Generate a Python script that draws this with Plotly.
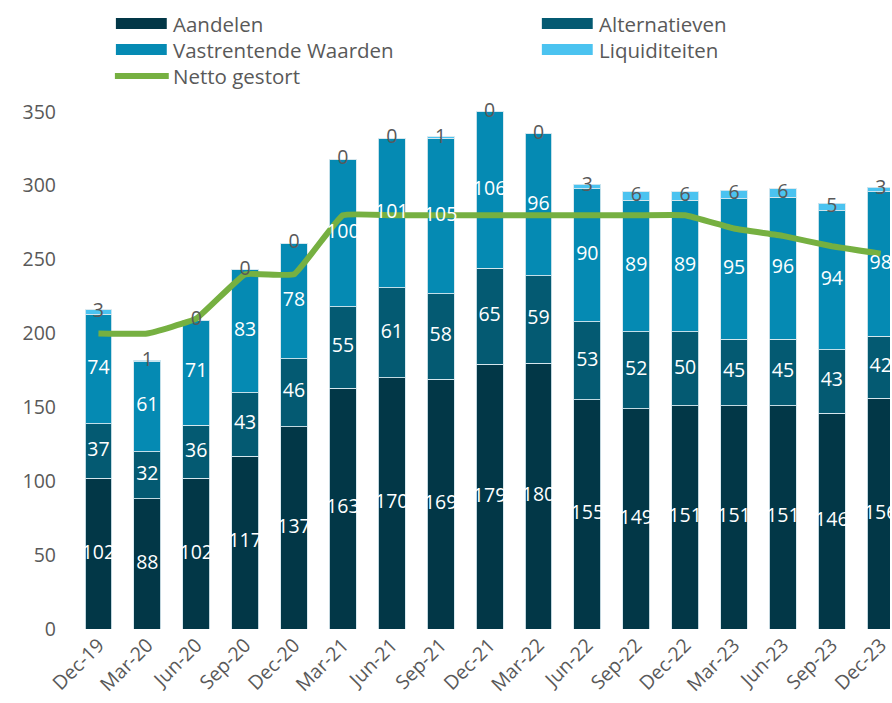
import plotly.graph_objects as go

categories = ["Dec-19", "Mar-20", "Jun-20", "Sep-20", "Dec-20", "Mar-21", "Jun-21", "Sep-21",
              "Dec-21", "Mar-22", "Jun-22", "Sep-22", "Dec-22", "Mar-23", "Jun-23", "Sep-23", "Dec-23"]
aandelen = [102, 88, 102, 117, 137, 163, 170, 169, 179, 180, 155, 149, 151, 151, 151, 146, 156]
alternatieven = [37, 32, 36, 43, 46, 55, 61, 58, 65, 59, 53, 52, 50, 45, 45, 43, 42]
vastrentend = [74, 61, 71, 83, 78, 100, 101, 105, 106, 96, 90, 89, 89, 95, 96, 94, 98]
liquiditeiten = [3, 1, 0, 0, 0, 0, 0, 1, 0, 0, 3, 6, 6, 6, 6, 5, 3]
netto_gestort = [200, 200, 210, 240, 240, 280, 280, 280, 280, 280, 280, 280, 280, 271, 266, 259, 254]
y_ticks = [0, 50, 100, 150, 200, 250, 300, 350]

names = ["Aandelen", "Alternatieven", "Vastrentende Waarden", "Liquiditeiten", "Netto gestort"]
colors = ["#023747", "#045a72", "#058ab3", "#4bc3f0", "#76b041"]
FONT = "Open Sans"
GREY = "#595959"

W, H = 892, 703
ML, MR, MT, MB = 74, 0, 97, 74
PW, PH = W - ML - MR, H - MT - MB


def px2x(px):
    return (px - ML) / PW


def px2y(py):
    return (H - MB - py) / PH


series = [aandelen, alternatieven, vastrentend, liquiditeiten]
fig = go.Figure()
for vals, name, col in zip(series, names[:4], colors[:4]):
    fig.add_trace(go.Bar(
        x=categories, y=vals, name=name, marker_color=col,
        marker_line=dict(color="rgba(215,232,238,0.9)", width=1),
        width=0.55, showlegend=False, hoverinfo="skip",
    ))

fig.add_trace(go.Scatter(
    x=categories, y=netto_gestort, name=names[4], mode="lines",
    line=dict(color=colors[4], width=6, shape="spline", smoothing=0.3),
    showlegend=False, hoverinfo="skip",
))

# segment labels
base = [0] * len(categories)
for k, vals in enumerate(series):
    mids = [b + v / 2 for b, v in zip(base, vals)]
    fig.add_trace(go.Scatter(
        x=categories, y=mids, mode="text", text=[str(v) for v in vals],
        textposition="middle center",
        textfont=dict(family=FONT, size=19.5, color="white" if k < 3 else GREY),
        showlegend=False, hoverinfo="skip", cliponaxis=False,
    ))
    base = [b + v for b, v in zip(base, vals)]

# custom legend
legend_pos = [(116, 23.5), (543, 23.5), (116, 49.5), (543, 49.5), (116, 76)]
shapes = []
annotations = []
for i, (name, col) in enumerate(zip(names, colors)):
    x0, yc = legend_pos[i]
    if i < 4:
        shapes.append(dict(type="rect", xref="paper", yref="paper",
                           x0=px2x(x0), x1=px2x(x0 + 51), y0=px2y(yc + 5.5), y1=px2y(yc - 5.5),
                           fillcolor=col, line=dict(width=0)))
    else:
        shapes.append(dict(type="line", xref="paper", yref="paper",
                           x0=px2x(x0 - 1), x1=px2x(x0 + 53), y0=px2y(yc), y1=px2y(yc),
                           line=dict(color=col, width=6)))
    annotations.append(dict(text=name, xref="paper", yref="paper", x=px2x(x0 + 55), y=px2y(yc),
                            xanchor="left", yanchor="middle", showarrow=False,
                            font=dict(family=FONT, size=20.5, color=GREY)))

fig.update_layout(
    width=W, height=H, autosize=False,
    margin=dict(l=ML, r=MR, t=MT, b=MB),
    barmode="stack",
    paper_bgcolor="white", plot_bgcolor="white",
    font=dict(family=FONT, size=19.5, color=GREY),
    shapes=shapes, annotations=annotations,
    showlegend=False,
    xaxis=dict(type="category", range=[-0.5, 16.19], showgrid=False, showline=False,
               zeroline=False, tickangle=-45, tickfont=dict(size=19.5, color=GREY), ticks=""),
    yaxis=dict(range=[0, 360], tickvals=y_ticks, showgrid=False, showline=False, zeroline=False,
               tickfont=dict(size=19.5, color=GREY), ticks="", ticklabelstandoff=17),
)

fig.write_html("out.html", config={"displayModeBar": False},
               post_script="document.body.style.margin='0';document.body.style.overflow='hidden';")
